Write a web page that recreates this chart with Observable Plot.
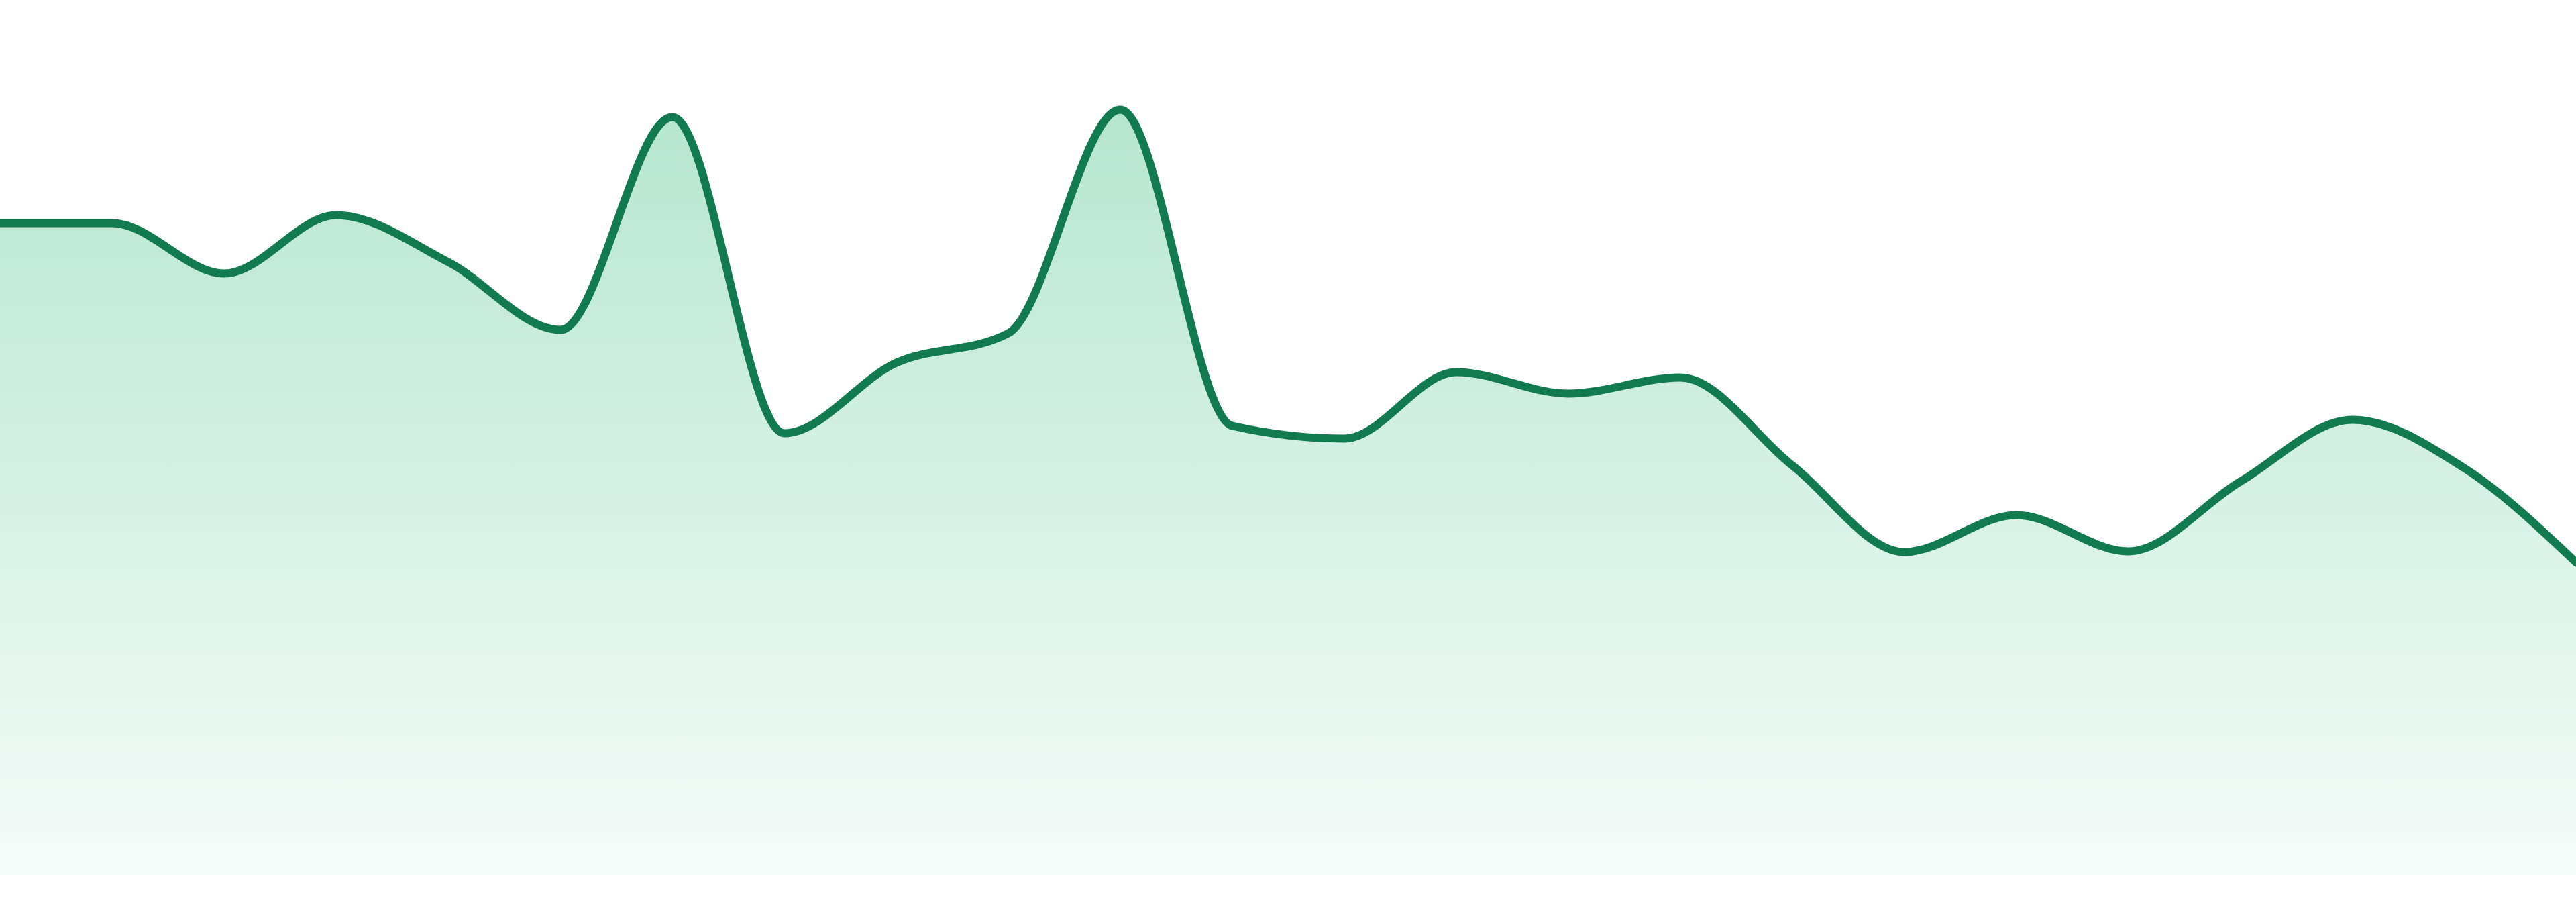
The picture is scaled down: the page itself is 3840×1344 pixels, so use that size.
<!DOCTYPE html>
<html>
<head>
<meta charset="utf-8">
<script src="https://cdn.jsdelivr.net/npm/d3@7"></script>
<script src="https://cdn.jsdelivr.net/npm/@observablehq/plot@0.6"></script>
<style>
  html, body { margin: 0; padding: 0; background: #ffffff; }
  #chart svg { display: block; }
</style>
</head>
<body>
<div id="chart"></div>
<script>
// Point index along the x axis (24 evenly spaced samples)
const positions = [0,1,2,3,4,5,6,7,8,9,10,11,12,13,14,15,16,17,18,19,20,21,22,23];
// Series values
const values = [97.2, 97.2, 89.7, 98.4, 91.4, 81.3, 113.0, 65.9, 76.4, 80.8, 114.1, 67.0,
                65.1, 75.0, 71.8, 74.2, 61.1, 48.2, 53.7, 48.3, 58.7, 67.9, 60.7, 46.6];

const data = positions.map((p, i) => ({x: p, y: values[i]}));

const gradientDefs = () => {
  const ns = "http://www.w3.org/2000/svg";
  const defs = document.createElementNS(ns, "defs");
  const lg = document.createElementNS(ns, "linearGradient");
  lg.setAttribute("id", "areaGrad");
  lg.setAttribute("x1", "0"); lg.setAttribute("y1", "0");
  lg.setAttribute("x2", "0"); lg.setAttribute("y2", "1");
  [["0%", "#b6e6d0"], ["100%", "#f6fcfa"]].forEach(([o, c]) => {
    const s = document.createElementNS(ns, "stop");
    s.setAttribute("offset", o);
    s.setAttribute("stop-color", c);
    lg.appendChild(s);
  });
  defs.appendChild(lg);
  return defs;
};

const chart = Plot.plot({
  width: 3840,
  height: 1344,
  marginTop: 0,
  marginBottom: 40,
  marginLeft: 0,
  marginRight: 0,
  style: {background: "#ffffff"},
  x: {domain: [0, 23], axis: null},
  y: {domain: [0, 130.4], axis: null},
  marks: [
    gradientDefs,
    Plot.areaY(data, {x: "x", y: "y", curve: "monotone-x", fill: "url(#areaGrad)"}),
    Plot.lineY(data, {x: "x", y: "y", curve: "monotone-x", stroke: "#117a4f", strokeWidth: 12})
  ]
});
document.getElementById("chart").appendChild(chart);
</script>
</body>
</html>
